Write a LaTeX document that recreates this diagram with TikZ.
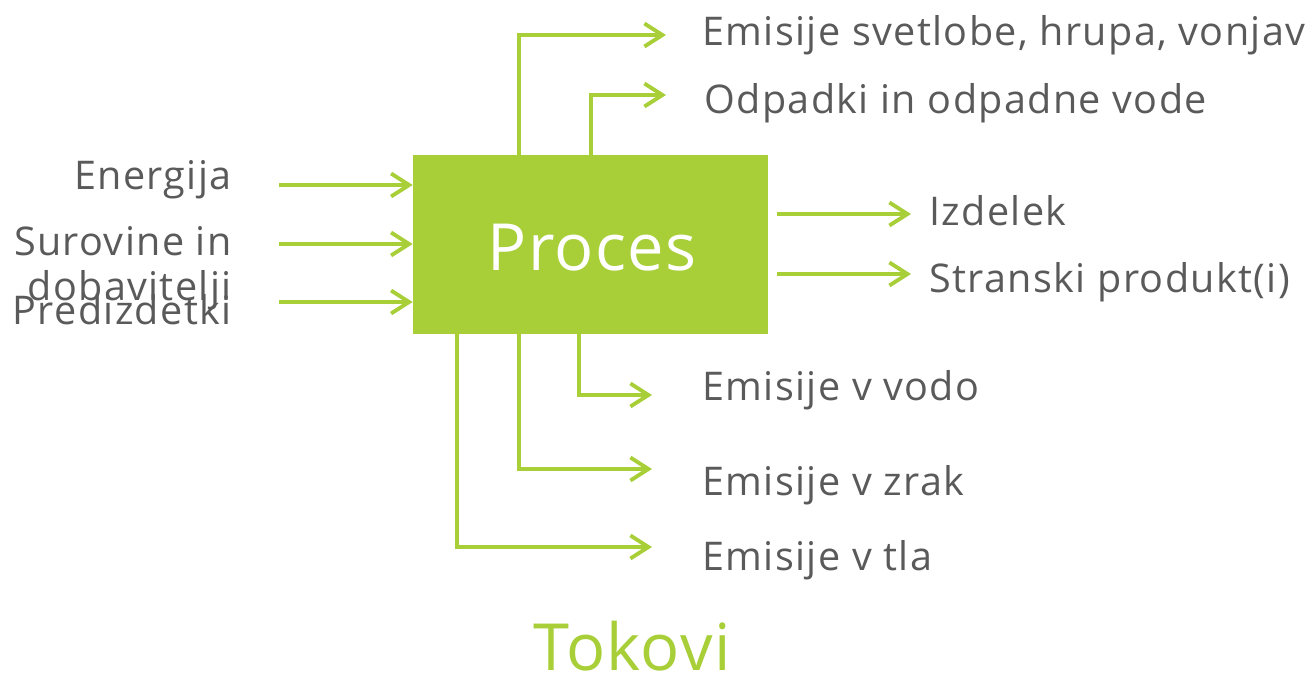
\documentclass[tikz,border=0pt]{standalone}
\usepackage{fontspec}
\setmainfont{Open Sans}
\newfontfamily\lblfont{Open Sans}[LetterSpace=3.5]
\newfontfamily\ttlfont{Open Sans}[LetterSpace=2]
\usetikzlibrary{arrows.meta,positioning}
\definecolor{leaf}{RGB}{168,206,56}
\definecolor{ink}{RGB}{90,90,90}

\begin{document}
\begin{tikzpicture}[
    x=0.02cm, y=-0.02cm,
    proc/.style={rectangle, fill=leaf, text=white, minimum width=7.1cm,
                 minimum height=3.58cm, inner sep=0pt},
    lbl/.style={text=ink, inner sep=0pt, font=\lblfont\fontsize{22.5}{25.5}\selectfont},
    flow/.style={draw=leaf, line width=2.2pt,
                 -{Straight Barb[length=3.6mm, width=4.6mm, line width=2.2pt]}},
    title/.style={inner sep=0pt, font=\ttlfont\fontsize{37}{44}\selectfont}
]
    \useasboundingbox (0,0) rectangle (1315,674);

    % Process box
    \node[proc] (proc) at (590.5,244.5) {};
    \node[title, text=white, anchor=base] (proctxt) at (592,270) {Proces};

    % Inputs
    \node[lbl, anchor=base east] (energ) at (232,189) {Energija};
    \node[lbl, anchor=base east, align=right] (surov) at (232,300) {Surovine in\\dobavitelji};
    \node[lbl, anchor=base east] (predi) at (232,324) {Predizdetki};
    \coordinate (inA) at (279,185);
    \coordinate (inB) at (279,244);
    \coordinate (inC) at (279,302);
    \draw[flow] (inA) -- (inA -| proc.west);
    \draw[flow] (inB) -- (inB -| proc.west);
    \draw[flow] (inC) -- (inC -| proc.west);

    % Emissions above
    \coordinate (upA) at (666,35);
    \coordinate (upB) at (666,95);
    \node[lbl, anchor=base west] (svet) at (702,45) {Emisije svetlobe, hrupa, vonjav};
    \node[lbl, anchor=base west] (odpa) at (704,113) {Odpadki in odpadne vode};
    \draw[flow] ([xshift=2.12cm]proc.north west) |- (upA);
    \draw[flow] ([xshift=3.56cm]proc.north west) |- (upB);

    % Outputs
    \coordinate (outA) at (911,214);
    \coordinate (outB) at (911,274);
    \node[lbl, anchor=base west] (izde) at (929,225) {Izdelek};
    \node[lbl, anchor=base west] (stra) at (929,292) {Stranski produkt(i)};
    \draw[flow, shorten <=0.18cm] (proc.east |- outA) -- (outA);
    \draw[flow, shorten <=0.18cm] (proc.east |- outB) -- (outB);

    % Emissions below
    \coordinate (dnA) at (652,395);
    \coordinate (dnB) at (652,469);
    \coordinate (dnC) at (652,547);
    \node[lbl, anchor=base west] (vodo) at (702,400) {Emisije v vodo};
    \node[lbl, anchor=base west] (zrak) at (702,495) {Emisije v zrak};
    \node[lbl, anchor=base west] (tla) at (702,570) {Emisije v tla};
    \draw[flow] ([xshift=3.32cm]proc.south west) |- (dnA);
    \draw[flow] ([xshift=2.12cm]proc.south west) |- (dnB);
    \draw[flow] ([xshift=0.88cm]proc.south west) |- (dnC);

    % Title
    \node[title, text=leaf, anchor=base] (tokovi) at (632,670) {Tokovi};
\end{tikzpicture}
\end{document}
